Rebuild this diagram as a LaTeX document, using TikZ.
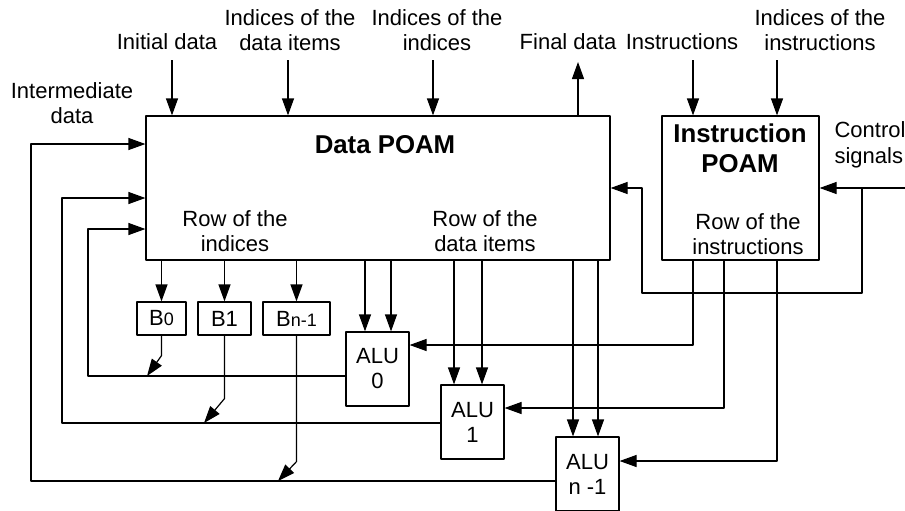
\documentclass[tikz,border=0pt]{standalone}
\usepackage{fontspec}
\setmainfont{Liberation Sans}
\usetikzlibrary{calc,arrows.meta,positioning}
\tikzset{
  blk/.style={draw,inner sep=0pt,align=center},
  txt/.style={align=center,inner sep=0pt,font=\fontsize{11}{12.8}\selectfont},
  ttl/.style={align=center,inner sep=0pt,font=\fontsize{12.9}{15}\selectfont\bfseries},
  alu/.style={blk,minimum width=31.5pt,minimum height=37pt,font=\fontsize{11}{12.5}\selectfont},
  bbox/.style={blk,minimum height=16.5pt,font=\fontsize{11}{12}\selectfont},
}
\newcommand{\sml}[1]{{\fontsize{9}{9}\selectfont #1}}

\begin{document}
\begin{tikzpicture}[x=0.5pt,y=-0.5pt,>={Triangle[length=8.5pt,width=6pt]},line width=0.6pt,line join=round]
  \useasboundingbox (0,0) rectangle (905,510);
  \node[blk,minimum width=232pt,minimum height=72pt] (data) at (378,188) {};
  \node[blk,minimum width=78.5pt,minimum height=72pt] (instr) at (740.5,188) {};
  \node[ttl] (tdata) at (385,145) {Data POAM};
  \node[txt] (tind) at (235,231) {Row of the\\indices};
  \node[txt] (titm) at (485,231) {Row of the\\data items};
  \node[ttl] (tinstr) at (740,148) {Instruction\\POAM};
  \node[txt] (tirow) at (748,234) {Row of the\\instructions};

  \node[txt] (lInter) at (72,103) {Intermediate\\data};
  \node[txt] (lInit) at (167,42) {Initial data};
  \node[txt] (lDidx) at (290,30) {Indices of the\\data items};
  \node[txt] (lIidx) at (437,30) {Indices of the\\indices};
  \node[txt] (lFin) at (568,42) {Final data};
  \node[txt] (lIns) at (682,42) {Instructions};
  \node[txt] (lIidx2) at (820,30) {Indices of the\\instructions};
  \node[txt,align=left,anchor=west] (lCtl) at (834,145) {Control\\signals};

  \coordinate (cInit) at (172,60);
  \coordinate (cDidx) at (288,60);
  \coordinate (cIidx) at (433,60);
  \coordinate (cFin) at (578,62);
  \coordinate (cIns) at (693,60);
  \coordinate (cIidx2) at (777,60);
  \coordinate (cCtl) at (905,188);
  \coordinate (cBr) at (862,188);

  \draw[->] (cInit) -- (cInit |- data.north);
  \draw[->] (cDidx) -- (cDidx |- data.north);
  \draw[->] (cIidx) -- (cIidx |- data.north);
  \draw[->] (cFin |- data.north) -- (cFin);
  \draw[->] (cIns) -- (cIns |- instr.north);
  \draw[->] (cIidx2) -- (cIidx2 |- instr.north);
  \draw[->] (cCtl) -- (instr.east);
  \draw[->] (cBr) |- (642,293) |- (data.east);

  \node[bbox,minimum width=24.5pt] (b0) at (161.5,318.5) {B\sml{0}};
  \node[bbox,minimum width=26.5pt] (b1) at (224.5,318.5) {B1};
  \node[bbox,minimum width=33.5pt] (bn) at (296.5,318.5) {B\sml{n-1}};
  \foreach \bx in {b0,b1,bn}
    \draw[->] (\bx.north |- data.south) -- (\bx.north);

  \node[alu] (alu0) at (377.5,369) {ALU\\0};
  \node[alu] (alu1) at (472.5,422) {ALU\\1};
  \node[alu] (alun) at (587.5,474) {ALU\\n -1};
  \foreach \a/\l/\r in {alu0/-6.25pt/6.75pt,alu1/-9.25pt/4.75pt,alun/-7.25pt/5.25pt}{
    \draw[->] ([xshift=\l]\a.north |- data.south) -- ([xshift=\l]\a.north);
    \draw[->] ([xshift=\r]\a.north |- data.south) -- ([xshift=\r]\a.north);
  }

  \draw[->] ([xshift=-23.75pt]instr.south) |- ([yshift=12pt]alu0.east);
  \draw[->] ([xshift=-8.25pt]instr.south) |- ([yshift=7pt]alu1.east);
  \draw[->] ([xshift=18.25pt]instr.south) |- ([yshift=6.5pt]alun.east);

  \draw[->] ([yshift=-3.5pt]alu0.west) -| (88,229) -- (data.west |- 88,229);
  \draw[->] ([yshift=-0.5pt]alu1.west) -| (62,198) -- (data.west |- 62,198);
  \draw[->] ([yshift=-3.5pt]alun.west) -| (31,144) -- (data.west |- 31,144);

  \coordinate (j0) at (147,376);
  \coordinate (j1) at (204,423);
  \coordinate (jn) at (278,481);
  \draw[->] (b0.south) -- ++(0,20) -- (j0);
  \draw[->] (b1.south) -- ++(0,63) -- (j1);
  \draw[->] (bn.south) -- ++(0,126) -- (jn);
\end{tikzpicture}
\end{document}
